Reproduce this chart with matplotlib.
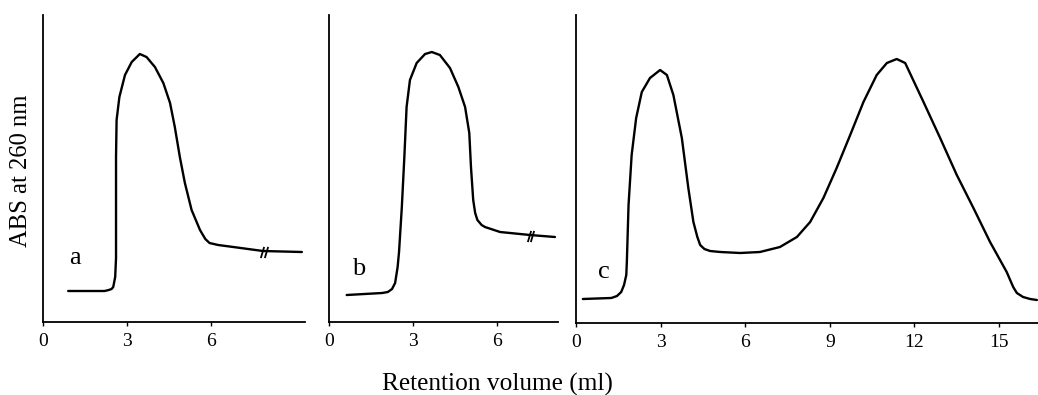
import matplotlib
matplotlib.use('Agg')
import matplotlib.pyplot as plt

plt.rcParams['font.family'] = ['Liberation Serif', 'DejaVu Serif']

# panel a
vol_a = [0.9, 2.2, 2.35, 2.45, 2.51, 2.58, 2.61, 2.61, 2.61, 2.63, 2.73, 2.93, 3.17, 3.46, 3.70, 4.0, 4.30, 4.54,
         4.71, 4.89, 5.07, 5.31, 5.61, 5.80, 5.95, 6.26, 6.8, 7.86, 9.25]
abs_a = [0.31, 0.31, 0.32, 0.33, 0.35, 0.45, 0.64, 1.15, 1.65, 2.02, 2.25, 2.47, 2.60, 2.68, 2.65, 2.55, 2.39, 2.19,
         1.95, 1.65, 1.39, 1.12, 0.92, 0.83, 0.79, 0.77, 0.75, 0.71, 0.70]
break_a = 7.9

# panel b
vol_b = [0.63, 1.9, 2.1, 2.25, 2.36, 2.45, 2.50, 2.60, 2.69, 2.77, 2.89, 3.13, 3.43, 3.67, 3.96, 4.32, 4.62, 4.86,
         5.01, 5.07, 5.15, 5.22, 5.30, 5.45, 5.57, 6.11, 7.18, 8.07]
abs_b = [0.27, 0.29, 0.30, 0.33, 0.39, 0.55, 0.70, 1.15, 1.65, 2.15, 2.42, 2.59, 2.68, 2.70, 2.67, 2.54, 2.35, 2.15,
         1.89, 1.55, 1.22, 1.09, 1.02, 0.97, 0.95, 0.90, 0.87, 0.85]
break_b = 7.2

# panel c
vol_c = [0.24, 1.25, 1.45, 1.60, 1.70, 1.78, 1.80, 1.86, 1.97, 2.13, 2.33, 2.62, 2.98, 3.22, 3.45, 3.75, 3.98, 4.16,
         4.30, 4.40, 4.55, 4.75, 5.11, 5.82, 6.52, 7.23, 7.83, 8.30, 8.77, 9.24, 9.72, 10.19, 10.66, 11.02, 11.37,
         11.67, 12.32, 12.91, 13.50, 14.09, 14.68, 15.27, 15.50, 15.63, 15.85, 16.1, 16.34]
abs_c = [0.24, 0.25, 0.27, 0.31, 0.38, 0.48, 0.61, 1.18, 1.68, 2.05, 2.31, 2.45, 2.53, 2.48, 2.28, 1.85, 1.35, 1.01,
         0.86, 0.78, 0.74, 0.72, 0.71, 0.70, 0.71, 0.76, 0.86, 1.01, 1.25, 1.55, 1.88, 2.21, 2.48, 2.60, 2.64,
         2.60, 2.21, 1.85, 1.48, 1.15, 0.81, 0.51, 0.36, 0.30, 0.26, 0.24, 0.23]

fig = plt.figure(figsize=(10.38, 3.95), dpi=100)

panels = [
    ([0.0414, 0.1848, 0.2524, 0.7772], vol_a, abs_a, break_a, 'a', (0.10, 0.19), 9.36, 3.07, [0, 3, 6]),
    ([0.317, 0.1848, 0.2206, 0.7772], vol_b, abs_b, break_b, 'b', (0.10, 0.153), 8.18, 3.07, [0, 3, 6]),
    ([0.555, 0.1823, 0.445, 0.7797], vol_c, abs_c, None, 'c', (0.048, 0.147), 16.38, 3.08, [0, 3, 6, 9, 12, 15]),
]

for rect, x, y, brk, letter, lpos, xmax, ymax, ticks in panels:
    ax = fig.add_axes(rect)
    ax.plot(x, y, color='black', linewidth=1.7, solid_capstyle='round', solid_joinstyle='round')
    if brk is not None:
        # little break marks on the tail of the trace
        yb = sum(y[-2:]) / 2
        for dx in (-0.06, 0.06):
            ax.plot([brk + dx], [yb], marker=[(-0.3, -1), (0.3, 1)], markersize=8,
                    color='black', markeredgewidth=1.3, linestyle='none')
    ax.set_xlim(0, xmax)
    ax.set_ylim(0, ymax)
    ax.set_xticks(ticks)
    ax.set_yticks([])
    ax.spines['top'].set_visible(False)
    ax.spines['right'].set_visible(False)
    ax.spines['left'].set_linewidth(1.3)
    ax.spines['bottom'].set_linewidth(1.3)
    ax.tick_params(axis='x', length=3, width=1, labelsize=14, pad=5)
    ax.text(lpos[0], lpos[1], letter, transform=ax.transAxes, fontsize=19, ha='left', va='baseline')

fig.text(0.020, 0.567, 'ABS at 260 nm', rotation=90, fontsize=17.7, ha='center', va='center')
fig.text(0.479, 0.027, 'Retention volume (ml)', fontsize=18.3, ha='center', va='center')

fig.savefig('out.png', dpi=100)
